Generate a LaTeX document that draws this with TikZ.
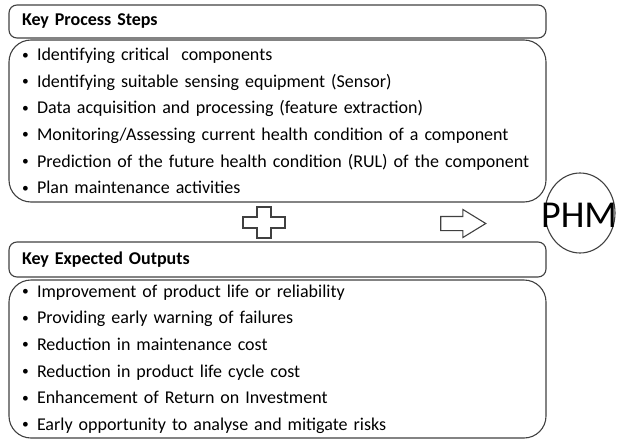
\documentclass[tikz,border=0pt]{standalone}
\usepackage{fontspec}
\setmainfont{Carlito}
\usetikzlibrary{shapes.geometric,shapes.arrows}

\tikzset{
  hdrbox/.style={draw=black!75, line width=1.1pt, rounded corners=8pt, minimum width=537pt,
    text width=511pt, inner xsep=13pt, align=left, font=\fontsize{18}{20}\selectfont\bfseries},
  listbox/.style={draw=black!75, line width=1.1pt, rounded corners=22pt, minimum width=537pt,
    text width=511pt, inner xsep=13pt, align=left, font=\fontsize{18}{26.6}\selectfont},
  outline/.style={draw=black!75, line width=1.1pt}
}
\newcommand{\itm}{\makebox[15pt][l]{\raisebox{1.5pt}{\scalebox{0.75}{\textbullet}}}}

\begin{document}
\begin{tikzpicture}[x=1pt, y=-1pt]
\useasboundingbox (0,0) rectangle (617,441);
% process steps
\node[hdrbox, minimum height=33pt] at (277.5,21.5) (steps-hd) {Key Process Steps};
\node[listbox, minimum height=162pt] at (277.5,121) (steps) {\itm Identifying critical\ \ components\\
  \itm Identifying suitable sensing equipment (Sensor)\\
  \itm Data acquisition and processing (feature extraction)\\
  \itm Monitoring/Assessing\ current health condition of a component\\
  \itm Prediction of the future health condition (RUL) of the component\\
  \itm Plan maintenance activities};
% expected outputs
\node[hdrbox, minimum height=35pt] at (277.5,259.5) (outputs-hd) {Key Expected Outputs};
\node[listbox, minimum height=158pt] at (277.5,359) (outputs) {\itm Improvement of product life or reliability\\
  \itm Providing early warning of failures\\
  \itm Reduction in maintenance cost\\
  \itm Reduction in product life cycle cost\\
  \itm Enhancement of Return on Investment\\
  \itm Early opportunity to analyse and mitigate risks};
% plus sign
\draw[outline] (257,207) -- (271,207) -- (271,217) -- (285,217) -- (285,228) -- (271,228)
  -- (271,238) -- (257,238) -- (257,228) -- (243,228) -- (243,217) -- (257,217) -- cycle;
% arrow and PHM
\node[outline, single arrow, minimum height=45pt, minimum width=27pt, inner sep=6.5pt,
  single arrow head extend=7pt, single arrow tip angle=63] at (457.5,223.5) (arrow) {};
\node[outline, ellipse, minimum width=70pt, minimum height=80pt, inner sep=0pt] at (580,213) (phm) {};
\node[font=\fontsize{38}{41}\selectfont, inner sep=0pt] at (579,215) (phm-label) {PHM};
\end{tikzpicture}
\end{document}
